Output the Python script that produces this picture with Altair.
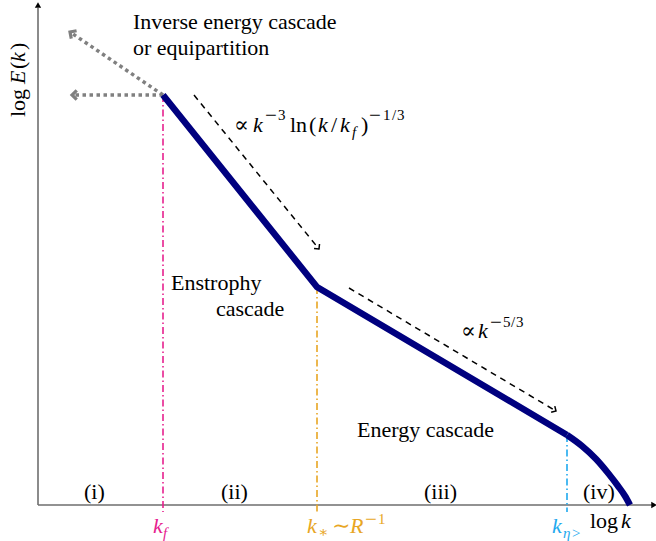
import altair as alt
import pandas as pd

# ---------------- data (schematic units: log k , log E measured from the origin) -------------
curve_logk = [125, 279, 529]
curve_logE = [410, 218, 70]
tail_logk = [529, 544, 558, 570, 580, 587, 592]
tail_logE = [70, 59, 46, 32, 19, 9, 0]

k_marks = [125, 279, 529]            # k_f, k_*, k_eta>
k_marks_top = [410, 218, 70]
k_colors = ["#e6218e", "#e8a624", "#1ea9ee"]

# grey dotted arrows (inverse cascade / equipartition)
grey_x0 = [125, 125]
grey_y0 = [410, 410]
grey_x1 = [34, 32]
grey_y1 = [410, 473]
grey_ang = [180, 214]

# dashed slope arrows
dash_x0 = [156, 311]
dash_y0 = [410, 217]
dash_x1 = [281, 518]
dash_y1 = [256, 94]
dash_ang = [51, 31]

XMIN, XMAX = -38, 618
YMIN, YMAX = -36, 505
W, H = 656, 541

xs = alt.Scale(domain=[XMIN, XMAX], nice=False, zero=False)
ys = alt.Scale(domain=[YMIN, YMAX], nice=False, zero=False)
X = lambda f: alt.X(f, type="quantitative", scale=xs, axis=None)
Y = lambda f: alt.Y(f, type="quantitative", scale=ys, axis=None)

FONT = "Liberation Serif, Times New Roman, DejaVu Serif, serif"

# ---------------- axes ----------------
axes_df = pd.DataFrame({"x": [0, 0], "y": [0, 0], "x2": [XMAX - 1, 0], "y2": [0, YMAX - 8]})
axes = alt.Chart(axes_df).mark_rule(color="#6e6e6e", strokeWidth=1.6).encode(
    x=X("x"), y=Y("y"), x2="x2", y2="y2")
axhead_df = pd.DataFrame({"x": [XMAX - 2, 0], "y": [0, YMAX - 5], "shape": ["triangle-right", "triangle-up"]})
axheads = alt.Chart(axhead_df).mark_point(filled=True, color="black", size=40, opacity=1).encode(
    x=X("x"), y=Y("y"), shape=alt.Shape("shape:N", scale=None))

# ---------------- vertical dash-dot markers ----------------
vdf = pd.DataFrame({"x": k_marks, "y": k_marks_top, "y2": [-7] * 3, "c": k_colors})
vlines = alt.Chart(vdf).mark_rule(strokeWidth=1.6, strokeDash=[7, 3, 1.5, 3]).encode(
    x=X("x"), y=Y("y"), y2="y2", color=alt.Color("c:N", scale=None))

# ---------------- spectrum ----------------
cdf = pd.DataFrame({"k": curve_logk, "E": curve_logE, "o": range(len(curve_logk))})
curve = alt.Chart(cdf).mark_line(color="#00007f", strokeWidth=6.5, strokeCap="butt",
                                 strokeJoin="miter").encode(x=X("k"), y=Y("E"), order="o:Q")
tdf_c = pd.DataFrame({"k": tail_logk, "E": tail_logE, "o": range(len(tail_logk))})
tail = alt.Chart(tdf_c).mark_line(color="#00007f", strokeWidth=6.5, strokeCap="butt",
                                  interpolate="monotone").encode(x=X("k"), y=Y("E"), order="o:Q")

# ---------------- grey dotted arrows ----------------
gdf = pd.DataFrame({"x": grey_x0, "y": grey_y0, "x2": grey_x1, "y2": grey_y1, "a": grey_ang})
grey = alt.Chart(gdf).mark_rule(color="#808080", strokeWidth=3.5, strokeDash=[3.5, 3.5]).encode(
    x=X("x"), y=Y("y"), x2="x2", y2="y2")
CHEV = "M -1 -1 L 0 0 L -1 1"
greyhead = alt.Chart(gdf).mark_point(shape=CHEV, filled=False, color="#808080", strokeWidth=3.2,
                                      size=90, opacity=1).encode(
    x=X("x2"), y=Y("y2"), angle=alt.Angle("a:Q", scale=None))

# ---------------- dashed slope arrows ----------------
ddf = pd.DataFrame({"x": dash_x0, "y": dash_y0, "x2": dash_x1, "y2": dash_y1, "a": dash_ang})
dash = alt.Chart(ddf).mark_rule(color="black", strokeWidth=1.5, strokeDash=[6, 5]).encode(
    x=X("x"), y=Y("y"), x2="x2", y2="y2")
dashhead = alt.Chart(ddf).mark_point(shape=CHEV, filled=False, color="black", strokeWidth=1.5,
                                     size=50, opacity=1).encode(
    x=X("x2"), y=Y("y2"), angle=alt.Angle("a:Q", scale=None))

# ---------------- text pieces ----------------
BL, SUP, MIN = 22, 15, 21
MAG, ORA, BLU = k_colors
K = "black"
pieces = [
    # text, px x, px baseline y, size, italic, color, angle
    ("Inverse energy cascade", 133, 29, BL, False, K, 0),
    ("or equipartition", 133, 55, BL, False, K, 0),
    ("Enstrophy", 171, 290, BL, False, K, 0),
    ("cascade", 216, 316, BL, False, K, 0),
    ("Energy cascade", 357, 437, BL, False, K, 0),
    ("(i)", 84, 499, BL, False, K, 0),
    ("(ii)", 221, 499, BL, False, K, 0),
    ("(iii)", 424, 499, BL, False, K, 0),
    ("(iv)", 583, 499, BL, False, K, 0),
    # proportional to k^-3 ln(k/kf)^-1/3
    ("∝", 234, 132, BL, False, K, 0),
    ("k", 253, 132, BL, True, K, 0),
    ("−", 265, 121.5, MIN, False, K, 0),
    ("3", 278, 120, SUP, False, K, 0),
    ("ln", 290, 132, BL, False, K, 0),
    ("(", 309, 132, BL, False, K, 0),
    ("k", 318, 132, BL, True, K, 0),
    ("/", 331, 132, BL, False, K, 0),
    ("k", 340, 132, BL, True, K, 0),
    ("f", 352, 137, SUP, True, K, 0),
    (")", 361, 132, BL, False, K, 0),
    ("−", 369, 121.5, MIN, False, K, 0),
    ("1", 383, 120, SUP, False, K, 0),
    ("/", 392, 120, SUP, False, K, 0),
    ("3", 397, 120, SUP, False, K, 0),
    # proportional to k^-5/3
    ("∝", 461, 338, BL, False, K, 0),
    ("k", 478, 338, BL, True, K, 0),
    ("−", 490, 328.5, MIN, False, K, 0),
    ("5", 503, 327, SUP, False, K, 0),
    ("/", 511, 327, SUP, False, K, 0),
    ("3", 516, 327, SUP, False, K, 0),
    # x labels
    ("k", 153, 533, BL, True, MAG, 0),
    ("f", 163, 538, SUP, True, MAG, 0),
    ("k", 307, 533, BL, True, ORA, 0),
    ("∗", 318, 537, SUP, False, ORA, 0),
    ("∼", 332, 533, BL, False, ORA, 0),
    ("R", 350, 533, BL, True, ORA, 0),
    ("−", 365, 525.5, MIN, False, ORA, 0),
    ("1", 378, 524, SUP, False, ORA, 0),
    ("k", 552, 533, BL, True, BLU, 0),
    ("η", 563, 538, SUP, True, BLU, 0),
    (">", 572, 538, SUP, False, BLU, 0),
    ("log", 590, 528, BL, False, K, 0),
    ("k", 621, 528, BL, True, K, 0),
    # y label
    ("log", 25, 117, BL, False, K, 270),
    ("E", 25, 84, BL, True, K, 270),
    ("(", 25, 69, BL, False, K, 270),
    ("k", 25, 62, BL, True, K, 270),
    (")", 25, 50, BL, False, K, 270),
]
tdf = pd.DataFrame(pieces, columns=["t", "px", "py", "s", "it", "c", "a"])
tdf["x"] = tdf["px"] + XMIN
tdf["y"] = YMAX - tdf["py"]


def text_layer(italic):
    return alt.Chart(tdf[tdf["it"] == italic]).mark_text(
        font=FONT, align="left", baseline="alphabetic",
        fontStyle="italic" if italic else "normal").encode(
        x=X("x"), y=Y("y"), text="t:N",
        size=alt.Size("s:Q", scale=None),
        color=alt.Color("c:N", scale=None),
        angle=alt.Angle("a:Q", scale=None))


chart = alt.layer(
    axes, vlines, grey, dash, curve, tail, greyhead, dashhead, axheads,
    text_layer(False), text_layer(True)
).properties(
    width=W, height=H, padding=0, autosize=alt.AutoSizeParams(type="none"),
    background="white"
).configure_view(stroke=None)

chart.save("out.html", embed_options={"renderer": "svg", "actions": False})
